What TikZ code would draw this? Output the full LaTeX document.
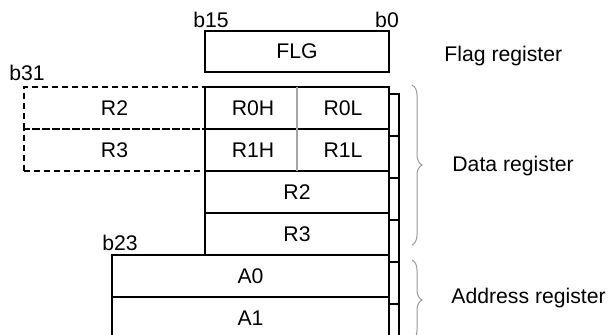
\documentclass[tikz,border=0pt]{standalone}
\usepackage{fontspec}
\setmainfont{Liberation Sans}
\usetikzlibrary{decorations.pathreplacing}

\begin{document}
\begin{tikzpicture}[x=0.5pt, y=-0.5pt,
    every node/.style={font=\fontsize{10.6}{12}\selectfont, inner sep=0pt},
    regbox/.style={draw, line width=1pt, minimum height=21pt, minimum width=92pt},
    ghostbox/.style={draw, dash pattern=on 3pt off 2pt, line width=0.9pt, minimum height=21pt, minimum width=90.5pt},
    sideline/.style={line width=1pt},
    halfline/.style={draw=gray!70, line width=0.7pt, shorten <=0.5pt, shorten >=0.5pt},
    regbrace/.style={draw=gray!80, line width=0.5pt, decorate, decoration={brace, amplitude=5pt}}]

    \useasboundingbox (0,0) rectangle (608,335);
    \clip (0,0) rectangle (608,335);

    % Upper 16 bits of the 32-bit pairs
    \node[ghostbox] (r2x) at (114.5,108) {R2};
    \node[ghostbox] (r3x) at (114.5,150) {R3};

    % Flag register
    \node[regbox, minimum height=20.5pt] (flg) at (297,51.5) {FLG};

    % Data registers
    \node[regbox] (r0) at (297,108) {};
    \node[regbox] (r1) at (297,150) {};
    \node[regbox] (r2) at (297,192) {R2};
    \node[regbox] (r3) at (297,234) {R3};
    \draw[halfline] (r0.north) -- (r0.south);
    \draw[halfline] (r1.north) -- (r1.south);
    \node (r0h) at (253,108) {R0H};
    \node (r0l) at (343,108) {R0L};
    \node (r1h) at (253,150) {R1H};
    \node (r1l) at (343,150) {R1L};

    % Address registers
    \node[regbox, minimum width=138.5pt] (a0) at (250.5,276) {A0};
    \node[regbox, minimum width=138.5pt] (a1) at (250.5,318) {A1};

    % Side strip
    \foreach \r in {r0,r1,r2,r3,a0,a1}
        \draw[sideline] ([yshift=-4pt]\r.north east) -- ++(9,0) -- ([xshift=4.5pt,yshift=-4pt]\r.south east);

    % Bit labels
    \node (b15) at (211,20) {b15};
    \node (b0) at (387,20) {b0};
    \node (b31) at (27,73) {b31};
    \node (b23) at (120,243) {b23};

    % Braces and names
    \coordinate (dtop) at (412,85);
    \coordinate (dbot) at (412,245);
    \coordinate (atop) at (412,260);
    \coordinate (abot) at (412,340);
    \draw[regbrace] (dtop) -- (dbot);
    \draw[regbrace] (atop) -- (abot);
    \node[anchor=west] (flgname) at (444,56) {Flag register};
    \node[anchor=west] (dataname) at (452,166) {Data register};
    \node[anchor=west] (addrname) at (451,298) {Address register};

\end{tikzpicture}
\end{document}
